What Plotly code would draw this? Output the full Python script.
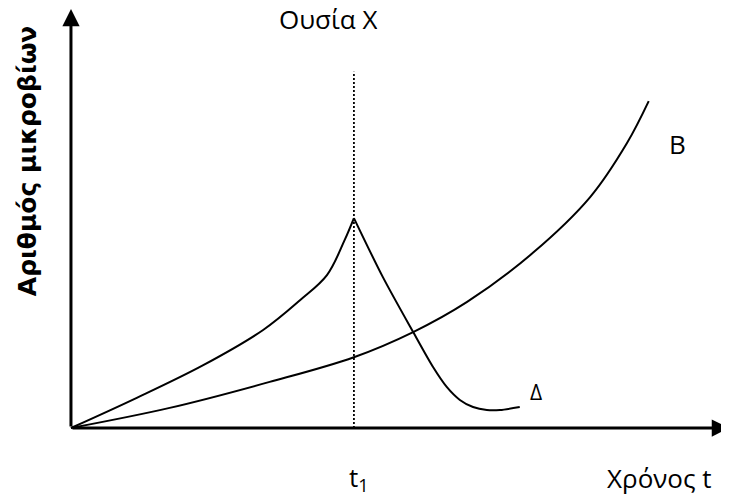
import plotly.graph_objects as go

# curve Δ: rises until substance X is added at t1, then falls
delta_up_t = [0, 10.0, 20.1, 29.2, 34.8, 38.9, 41.6, 43.0]
delta_up_n = [0, 7.2, 15.0, 23.4, 30.5, 36.5, 44.9, 50.1]
delta_down_t = [43.0, 47.4, 52.0, 55.0, 57.1, 59.1, 61.1, 63.2, 65.2, 68.2]
delta_down_n = [50.1, 36.0, 22.9, 14.6, 9.8, 6.7, 5.0, 4.3, 4.3, 5.0]

# curve B: keeps growing
b_t = [0, 15.0, 30.2, 43.0, 52.0, 60.2, 70.2, 78.9, 84.5, 87.8]
b_n = [0, 4.8, 11.0, 16.9, 22.9, 30.1, 41.8, 55.1, 68.0, 78.0]

t1 = 43.0
marker_top = 85.0
t_max = 100
n_max = 100

line = dict(color="black", width=2)

fig = go.Figure()
fig.add_trace(go.Scatter(x=delta_up_t, y=delta_up_n, mode="lines",
                         line=dict(line, shape="spline", smoothing=1)))
fig.add_trace(go.Scatter(x=delta_down_t, y=delta_down_n, mode="lines",
                         line=dict(line, shape="spline", smoothing=0.8)))
fig.add_trace(go.Scatter(x=b_t, y=b_n, mode="lines",
                         line=dict(line, shape="spline", smoothing=1)))
fig.add_trace(go.Scatter(x=[t1, t1], y=[0, marker_top], mode="lines",
                         line=dict(color="black", width=1.8, dash="2px,2px")))

# axes drawn as arrows
for tip in [(t_max, 0), (0, n_max)]:
    fig.add_annotation(x=tip[0], y=tip[1], ax=0, ay=0, axref="x", ayref="y",
                       showarrow=True, arrowhead=2, arrowsize=1.15, arrowwidth=3,
                       arrowcolor="black", text="")

lab = dict(family="Open Sans", size=26, color="black")
fig.add_annotation(x=39.1, y=97.5, text="Ουσία X", showarrow=False, font=lab, height=26)
fig.add_annotation(x=92.1, y=67.8, text="B", showarrow=False, font=lab)
fig.add_annotation(x=70.7, y=8.6, text="Δ", showarrow=False, font=dict(lab, size=21))
fig.add_annotation(x=43.8, y=-12.0, text="t<sub>1</sub>", showarrow=False, font=lab)
fig.add_annotation(x=89.4, y=-12.0, text="Χρόνος t", showarrow=False, font=lab)
fig.add_annotation(x=-6.6, y=63.8, text="<b>Αριθμός μικροβίων</b>", textangle=-90,
                   showarrow=False, font=dict(family="DejaVu Sans", size=25, color="black"))

# page body has an 8px margin, ranges set so the drawing lands in place
fig.update_xaxes(range=[-9.57, 100], visible=False)
fig.update_yaxes(range=[-16.23, 100.24], visible=False)
fig.update_layout(width=721, height=488, margin=dict(l=0, r=0, t=0, b=0),
                  showlegend=False, plot_bgcolor="white", paper_bgcolor="white")

fig.write_html("out.html")
